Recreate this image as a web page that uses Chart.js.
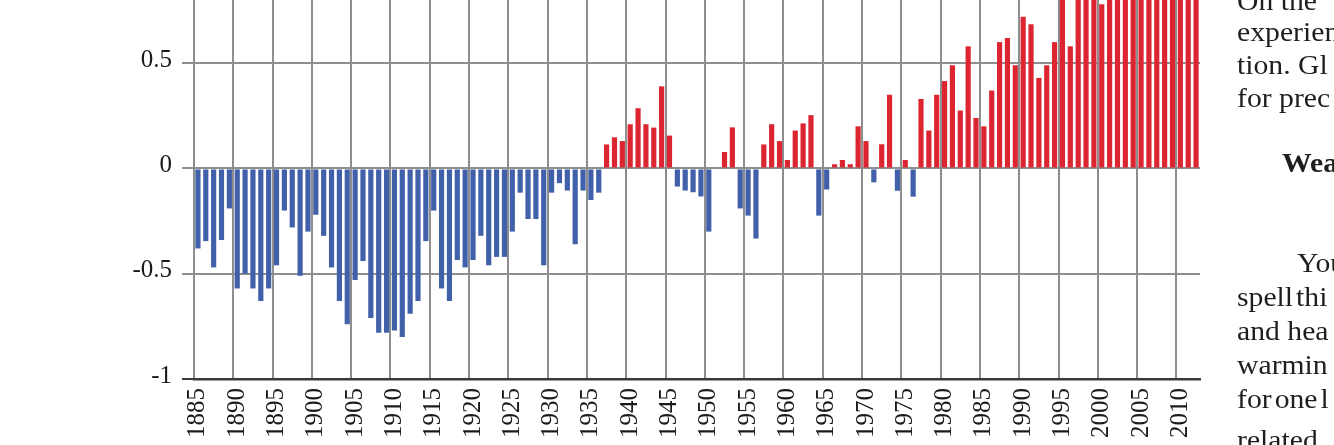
<!DOCTYPE html>
<html>
<head>
<meta charset="utf-8">
<script src="https://cdn.jsdelivr.net/npm/chart.js@4.4.0/dist/chart.umd.min.js"></script>
<style>
    html, body { margin: 0; padding: 0; background: #fff; overflow: hidden; }
    #wrap { position: relative; width: 1334px; height: 445px; overflow: hidden; background: #fff; }
    #chart { position: absolute; left: 0; top: 0; }
    .side { position: absolute; font-family: 'Liberation Serif', 'Times New Roman', serif; font-size: 27px;
            line-height: 27px; color: #1e1e1e; white-space: nowrap;
            transform: scaleX(1.1); transform-origin: 0 0; }
    .side.bold { font-weight: bold; }
</style>
</head>
<body>
<div id="wrap">
    <canvas id="chart" width="1334" height="445"></canvas>
</div>
<script>
// Anomalies de température, une valeur par an à partir de 1885
const firstYear = 1885;
const anomalies = [
    -0.38, -0.345, -0.47, -0.34, -0.19, -0.57, -0.50, -0.57, -0.63, -0.57,   // 1885-1894
    -0.46, -0.20, -0.28, -0.51, -0.30, -0.22, -0.32, -0.47, -0.63, -0.74,    // 1895-1904
    -0.53, -0.44, -0.71, -0.78, -0.78, -0.77, -0.80, -0.69, -0.63, -0.345,   // 1905-1914
    -0.20, -0.57, -0.63, -0.435, -0.47, -0.435, -0.32, -0.46, -0.42, -0.42,  // 1915-1924
    -0.30, -0.115, -0.24, -0.24, -0.46, -0.115, -0.07, -0.105, -0.36, -0.105, // 1925-1934
    -0.15, -0.115, 0.114, 0.148, 0.13, 0.21, 0.286, 0.21, 0.194, 0.39,      // 1935-1944
    0.156, -0.086, -0.105, -0.113, -0.133, -0.30, 0, 0.078, 0.195, -0.19,    // 1945-1954
    -0.224, -0.333, 0.114, 0.21, 0.13, 0.04, 0.18, 0.214, 0.253, -0.224,     // 1955-1964
    -0.10, 0.02, 0.04, 0.02, 0.20, 0.13, -0.066, 0.115, 0.35, -0.106,        // 1965-1974
    0.04, -0.134, 0.33, 0.18, 0.35, 0.415, 0.49, 0.275, 0.58, 0.24,          // 1975-1984
    0.20, 0.37, 0.60, 0.62, 0.49, 0.72, 0.685, 0.43, 0.49, 0.60,             // 1985-1994
    0.86, 0.58, 0.92, 1.05, 0.88, 0.78, 0.95, 1.00, 1.00, 0.95,              // 1995-2004
    1.05, 1.00, 1.02, 0.90, 1.00, 1.08, 0.95, 0.98                           // 2005-2012
];
const years = anomalies.map((_, i) => firstYear + i);

const xTickYears = [1885, 1890, 1895, 1900, 1905, 1910, 1915, 1920, 1925, 1930, 1935, 1940, 1945,
                    1950, 1955, 1960, 1965, 1970, 1975, 1980, 1985, 1990, 1995, 2000, 2005, 2010];
const yTicks = [-1, -0.5, 0, 0.5];
const yTickLabels = ['-1', '-0.5', '0', '0.5'];

// Texte de la page voisine, coupé par le cadrage
const sideLines = [
    { text: 'On the', x: 1237, baseline: 11 },
    { text: 'experien', x: 1237, baseline: 42 },
    { text: 'tion. Gl', x: 1237, baseline: 75 },
    { text: 'for prec', x: 1237, baseline: 108 },
    { text: 'Wea', x: 1282, baseline: 173, bold: true },
    { text: 'You', x: 1297, baseline: 273 },
    { text: 'spell thi', x: 1237, baseline: 307, tight: true },
    { text: 'and hea', x: 1237, baseline: 341 },
    { text: 'warmin', x: 1237, baseline: 375 },
    { text: 'for one l', x: 1237, baseline: 409, tight: true },
    { text: 'related', x: 1237, baseline: 450 }
];

const BLUE = '#4060aa';
const RED = '#dc2530';
const GRID = '#8e8e8e';
const serif = 'Liberation Serif';

const wrap = document.getElementById('wrap');
sideLines.forEach(line => {
    const div = document.createElement('div');
    div.className = 'side' + (line.bold ? ' bold' : '');
    div.textContent = line.text;
    div.style.left = line.x + 'px';
    div.style.top = (line.baseline - 23) + 'px';
    if (line.tight) div.style.wordSpacing = '-4px';
    wrap.appendChild(div);
});

const ctx = document.getElementById('chart').getContext('2d');
new Chart(ctx, {
    type: 'bar',
    data: {
        labels: years,
        datasets: [{
            data: anomalies,
            backgroundColor: c => (c.raw < 0 ? BLUE : RED),
            borderWidth: 0,
            barPercentage: 0.66,
            categoryPercentage: 1.0,
            clip: 0
        }]
    },
    options: {
        responsive: false,
        animation: false,
        devicePixelRatio: 1,
        layout: { padding: { left: 0, top: 0, right: 134, bottom: 0 } },
        plugins: {
            legend: { display: false },
            tooltip: { enabled: false }
        },
        scales: {
            x: {
                type: 'category',
                offset: true,
                grid: {
                    offset: true,
                    drawTicks: false,
                    lineWidth: 2,
                    color: c => (c.index % 5 === 0 || c.index === years.length) ? GRID : 'rgba(0,0,0,0)'
                },
                border: { display: true, color: '#3a3a3a', width: 2.5 },
                ticks: {
                    autoSkip: false,
                    minRotation: 90,
                    maxRotation: 90,
                    padding: 9,
                    color: '#1a1a1a',
                    font: { family: serif, size: 25 },
                    callback: (v, i) => (xTickYears.includes(years[i]) ? String(years[i]) : '')
                },
                afterFit: s => {
                    s.height = 66;
                    s.paddingLeft = 0;
                    s.paddingRight = 0;
                }
            },
            y: {
                min: -1,
                max: 0.8,
                grid: {
                    lineWidth: 2,
                    drawTicks: true,
                    tickLength: 12,
                    color: c => (c.tick && c.tick.value === -1 ? '#3a3a3a' : GRID)
                },
                border: { display: false },
                ticks: {
                    stepSize: 0.5,
                    includeBounds: false,
                    padding: 10,
                    labelOffset: -3,
                    color: '#1a1a1a',
                    font: { family: serif, size: 25 },
                    callback: v => {
                        const i = yTicks.indexOf(v);
                        return i >= 0 ? yTickLabels[i] : '';
                    }
                },
                afterFit: s => {
                    s.width = 194;
                    s.paddingTop = 0;
                    s.paddingBottom = 0;
                }
            }
        }
    }
});
</script>
</body>
</html>
